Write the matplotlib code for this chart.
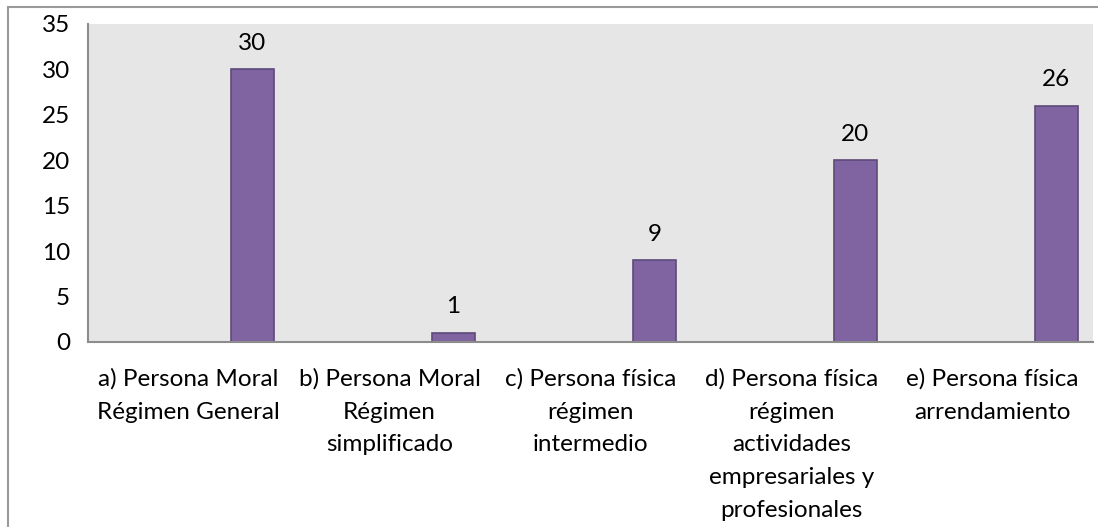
import numpy as np
import matplotlib
matplotlib.use("Agg")
import matplotlib.pyplot as plt
from matplotlib.patches import Rectangle

# ---------------------------------------------------------------------------
CATEGORIES = [
    "a) Persona Moral\nRégimen General",
    "b) Persona Moral\nRégimen\nsimplificado",
    "c) Persona física\nrégimen\nintermedio",
    "d) Persona física\nrégimen\nactividades\nempresariales y\nprofesionales",
    "e) Persona física\narrendamiento",
]
VALUES = [30, 1, 9, 20, 26]
Y_TICKS = [0, 5, 10, 15, 20, 25, 30, 35]

BAR_COLOR = "#8064A2"
EDGE_COLOR = "#5E4A7A"
PLOT_BG = "#E6E6E6"
AXIS_GRAY = "#8C8C8C"
FONT = "Lato"
FS = 17.5

plt.rcParams["font.family"] = [FONT, "DejaVu Sans"]

W, H = 1098, 527
fig = plt.figure(figsize=(W / 100, H / 100), dpi=100)

# outer chart border (cut off on right / bottom in the reference)
fig.patches.append(Rectangle((8 / W, -0.05), 1.2, 1 - 7 / H + 0.05,
                             transform=fig.transFigure, fill=False,
                             edgecolor="#9A9A9A", linewidth=1.5))

ax = fig.add_axes([88 / W, 1 - 342 / H, (1093 - 88) / W, (342 - 24) / H])
ax.set_facecolor(PLOT_BG)

x = np.arange(len(CATEGORIES))
offset = 0.318
width = 0.21
ax.bar(x + offset, VALUES, width, color=BAR_COLOR, edgecolor=EDGE_COLOR, linewidth=1.2)

for xi, v in zip(x, VALUES):
    ax.text(xi + offset, v + 1.7, f"{v}", ha="center", va="bottom", fontsize=FS)

ax.set_xlim(-0.5, len(CATEGORIES) - 0.5)
ax.set_ylim(0, 35)
ax.set_yticks(Y_TICKS)
ax.set_yticklabels([str(t) for t in Y_TICKS], fontsize=FS)
ax.tick_params(axis="y", length=0, pad=13)
ax.set_xticks(x)
ax.set_xticklabels(CATEGORIES, fontsize=FS, linespacing=1.69, ha="center", va="top")
ax.tick_params(axis="x", length=0, pad=19)

for s in ["top", "right"]:
    ax.spines[s].set_visible(False)
for s in ["left", "bottom"]:
    ax.spines[s].set_color(AXIS_GRAY)
    ax.spines[s].set_linewidth(1.5)

fig.savefig("out.png", dpi=100)
